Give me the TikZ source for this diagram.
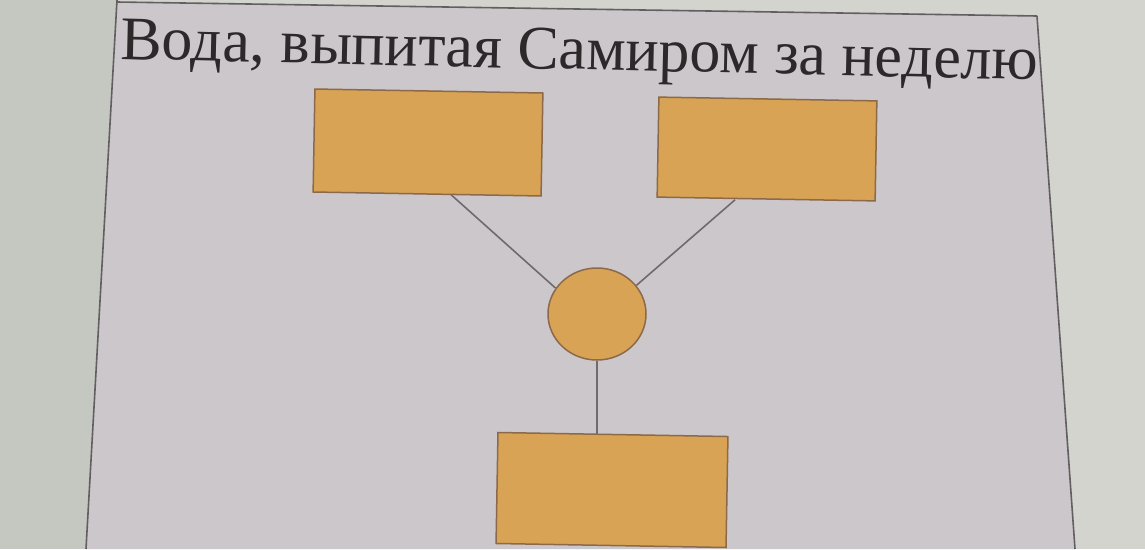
\documentclass[tikz,border=0pt]{standalone}
\usepackage{fontspec}
\setmainfont{Liberation Serif}
\usetikzlibrary{shapes.geometric}
\definecolor{paperin}{RGB}{203,199,203}
\definecolor{paperright}{RGB}{212,212,206}
\definecolor{paperleft}{RGB}{197,199,193}
\definecolor{boxfill}{RGB}{216,163,84}
\definecolor{boxline}{RGB}{140,105,75}
\definecolor{frameline}{RGB}{98,94,98}
\definecolor{wire}{RGB}{112,106,110}
\definecolor{inktext}{RGB}{45,40,42}
\tikzset{
  blockbox/.style={draw=boxline, line width=1.5pt, fill=boxfill, rectangle, inner sep=0pt, rotate=-1},
  joint/.style={draw=boxline, line width=1.5pt, fill=boxfill, ellipse, inner sep=0pt, minimum width=98pt, minimum height=92pt},
  link/.style={draw=wire, line width=1.6pt},
  framestroke/.style={draw=frameline, line width=1.6pt}
}
\begin{document}
\begin{tikzpicture}[x=1pt,y=-1pt]
\useasboundingbox (0,0) rectangle (1145,549);
\fill[paperright] (0,0) rectangle (1145,549);
\fill[paperleft] (0,0) rectangle (117,549);
% page inside the frame
\fill[paperin] (117,0) -- (117,2) -- (1037,16) -- (1075,549) -- (86,549) -- cycle;
% frame
\draw[framestroke] (117,0) -- (86,549);
\draw[framestroke] (1037,16) -- (1075,549);
\draw[framestroke] (117,2) -- (1037,16);
% title
\node[anchor=base west, inner sep=0pt, text=inktext, rotate=-1.3] (title) at (120,59) {\fontsize{62pt}{68pt}\selectfont Вода, выпитая Самиром за неделю};
% blocks
\node[blockbox, minimum width=228pt, minimum height=103pt] (tl) at (428,142.5) {};
\node[blockbox, minimum width=218pt, minimum height=100pt] (tr) at (767,149) {};
\node[joint] (c) at (597,314) {};
\node[blockbox, minimum width=230pt, minimum height=111pt] (bot) at (612,490) {};
% connectors
\draw[link] ([xshift=24pt]tl.south) -- (c.148);
\draw[link] ([xshift=-31pt]tr.south) -- (c.36);
\draw[link] (c.south) -- (c.south |- bot.north);
\end{tikzpicture}
\end{document}
